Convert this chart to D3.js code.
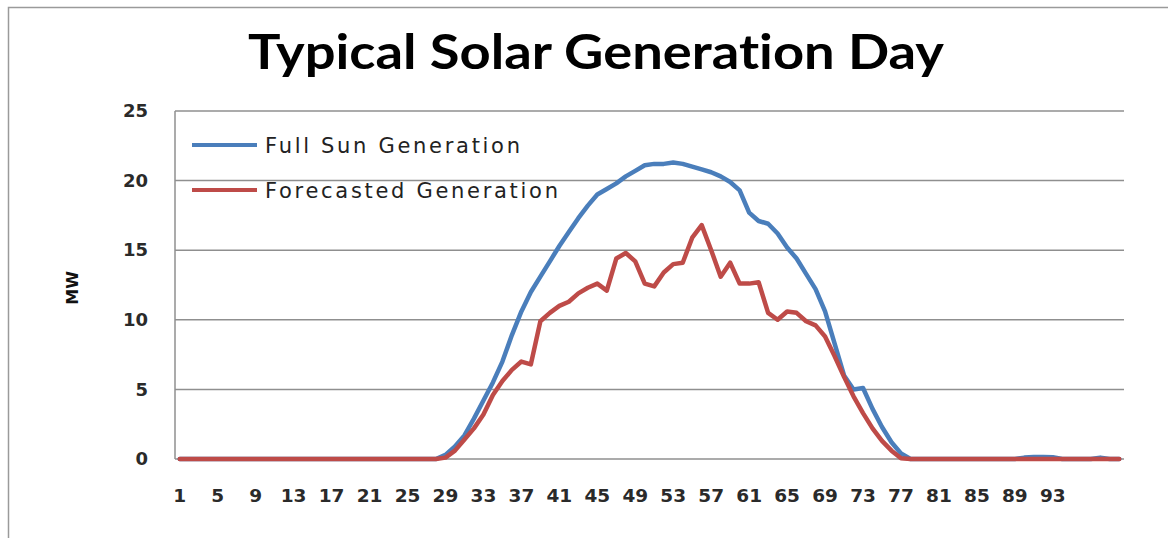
<!DOCTYPE html>
<html>
<head>
<meta charset="utf-8">
<script src="https://cdnjs.cloudflare.com/ajax/libs/d3/7.8.5/d3.min.js"></script>
<style>
  html, body { margin: 0; padding: 0; background: #fff; }
  svg { display: block; }
</style>
</head>
<body>
<script>
// 100 intervals over the day
const intervals = d3.range(1, 101);
const xTickLabels = [1, 5, 9, 13, 17, 21, 25, 29, 33, 37, 41, 45, 49, 53, 57, 61, 65, 69, 73, 77, 81, 85, 89, 93];
const yTicks = [0, 5, 10, 15, 20, 25];

const fullSun = [
  0, 0, 0, 0, 0, 0, 0, 0, 0, 0,
  0, 0, 0, 0, 0, 0, 0, 0, 0, 0,
  0, 0, 0, 0, 0, 0, 0, 0, 0.3, 0.9,
  1.7, 2.9, 4.2, 5.5, 7.0, 8.9, 10.6, 12.0, 13.1, 14.2,
  15.3, 16.3, 17.3, 18.2, 19.0, 19.4, 19.8, 20.3, 20.7, 21.1,
  21.2, 21.2, 21.3, 21.2, 21.0, 20.8, 20.6, 20.3, 19.9, 19.3,
  17.7, 17.1, 16.9, 16.2, 15.2, 14.4, 13.3, 12.2, 10.6, 8.3,
  6.0, 5.0, 5.1, 3.6, 2.3, 1.2, 0.4, 0, 0, 0,
  0, 0, 0, 0, 0, 0, 0, 0, 0, 0.1,
  0.15, 0.15, 0.12, 0, 0, 0, 0, 0.1, 0, 0
];

const forecasted = [
  0, 0, 0, 0, 0, 0, 0, 0, 0, 0,
  0, 0, 0, 0, 0, 0, 0, 0, 0, 0,
  0, 0, 0, 0, 0, 0, 0, 0, 0.1, 0.6,
  1.4, 2.2, 3.2, 4.6, 5.6, 6.4, 7.0, 6.8, 9.9, 10.5,
  11.0, 11.3, 11.9, 12.3, 12.6, 12.1, 14.4, 14.8, 14.2, 12.6,
  12.4, 13.4, 14.0, 14.1, 15.9, 16.8, 15.0, 13.1, 14.1, 12.6,
  12.6, 12.7, 10.5, 10.0, 10.6, 10.5, 9.9, 9.6, 8.8, 7.4,
  5.9, 4.5, 3.3, 2.2, 1.3, 0.6, 0.05, 0, 0, 0,
  0, 0, 0, 0, 0, 0, 0, 0, 0, 0,
  0, 0, 0, 0, 0, 0, 0, 0, 0, 0
];

const seriesNames = ["Full Sun Generation", "Forecasted Generation"];
const seriesColors = ["#4a7ebb", "#be4b48"];

const width = 1168, height = 538;
const plot = { left: 175, top: 111, right: 1124, bottom: 459 };
const labelFont = "DejaVu Sans, Verdana, sans-serif";

const svg = d3.select("body").append("svg")
  .attr("width", width)
  .attr("height", height);

// outer chart border
svg.append("rect")
  .attr("x", 8.5).attr("y", 7.5)
  .attr("width", width).attr("height", height)
  .attr("fill", "#fff")
  .attr("stroke", "#9a9a9a")
  .attr("stroke-width", 1.5);

const x = d3.scaleBand()
  .domain(intervals)
  .range([plot.left, plot.right]);
const xc = (d) => x(d) + x.bandwidth() / 2;

const y = d3.scaleLinear()
  .domain([0, 25])
  .range([plot.bottom, plot.top]);

// gridlines
svg.append("g")
  .selectAll("line")
  .data(yTicks.filter((d) => d > 0))
  .join("line")
  .attr("x1", plot.left).attr("x2", plot.right)
  .attr("y1", (d) => y(d)).attr("y2", (d) => y(d))
  .attr("stroke", "#8f8f8f")
  .attr("stroke-width", 1.5);

// axis lines
svg.append("line")
  .attr("x1", plot.left).attr("x2", plot.left)
  .attr("y1", plot.top).attr("y2", plot.bottom)
  .attr("stroke", "#8f8f8f").attr("stroke-width", 1.5);
svg.append("line")
  .attr("x1", plot.left).attr("x2", plot.right)
  .attr("y1", plot.bottom).attr("y2", plot.bottom)
  .attr("stroke", "#8f8f8f").attr("stroke-width", 1.5);

// y axis labels
const yAxis = svg.append("g")
  .attr("transform", `translate(${plot.left},0)`)
  .call(d3.axisLeft(y).tickValues(yTicks).tickSize(0).tickPadding(27));
yAxis.select(".domain").remove();
yAxis.selectAll("text")
  .attr("font-family", labelFont)
  .attr("font-weight", "bold")
  .attr("font-size", 18)
  .attr("fill", "#2a2a2a");

// x axis labels
const xAxis = svg.append("g")
  .attr("transform", `translate(0,${plot.bottom})`)
  .call(d3.axisBottom(x).tickValues(xTickLabels).tickSize(0).tickPadding(30));
xAxis.select(".domain").remove();
xAxis.selectAll("text")
  .attr("font-family", labelFont)
  .attr("font-weight", "bold")
  .attr("font-size", 18.5)
  .attr("fill", "#2a2a2a");

// y axis title
svg.append("text")
  .attr("transform", `translate(78,${(plot.top + plot.bottom) / 2 + 3}) rotate(-90)`)
  .attr("text-anchor", "middle")
  .attr("font-family", labelFont)
  .attr("font-weight", "bold")
  .attr("font-size", 16)
  .attr("fill", "#111")
  .text("MW");

// chart title
svg.append("text")
  .attr("x", 596).attr("y", 69)
  .attr("text-anchor", "middle")
  .attr("font-family", "Lato, sans-serif")
  .attr("font-weight", "bold")
  .attr("font-size", 47)
  .attr("textLength", 696)
  .attr("lengthAdjust", "spacingAndGlyphs")
  .style("font-variant-ligatures", "none")
  .attr("fill", "#000")
  .text("Typical Solar Generation Day");

// lines
const line = d3.line()
  .x((d, i) => xc(intervals[i]))
  .y((d) => y(d));

[fullSun, forecasted].forEach((s, k) => {
  svg.append("path")
    .datum(s)
    .attr("fill", "none")
    .attr("stroke", seriesColors[k])
    .attr("stroke-width", 4.5)
    .attr("stroke-linejoin", "round")
    .attr("stroke-linecap", "round")
    .attr("d", line);
});

// legend
const legend = svg.append("g")
  .selectAll("g")
  .data(seriesNames)
  .join("g")
  .attr("transform", (d, i) => `translate(192,${145 + i * 45})`);
legend.append("line")
  .attr("x1", 0).attr("x2", 65)
  .attr("stroke", (d, i) => seriesColors[i])
  .attr("stroke-width", 4);
legend.append("text")
  .attr("x", 73).attr("y", 7.5)
  .attr("font-family", labelFont)
  .attr("font-size", 21)
  .attr("letter-spacing", 2.7)
  .attr("fill", "#222")
  .text((d) => d);
</script>
</body>
</html>
